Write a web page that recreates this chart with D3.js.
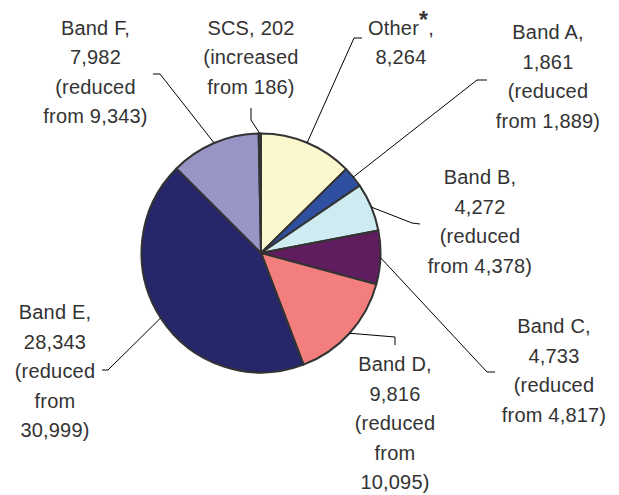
<!DOCTYPE html>
<html>
<head>
<meta charset="utf-8">
<script src="https://cdn.jsdelivr.net/npm/d3@7"></script>
<style>
  html, body { margin: 0; padding: 0; background: #fff; }
  svg { display: block; }
  text { font-family: "Liberation Sans", Arial, sans-serif; fill: #333; }
</style>
</head>
<body>
<svg id="chart" width="619" height="495"></svg>
<script>
// Slices, clockwise from 12 o'clock
const names = ["Other", "Band A", "Band B", "Band C", "Band D", "Band E", "Band F", "SCS"];
const values = [8264, 1861, 4272, 4733, 9816, 28343, 7982, 202];
const previous = [null, 1889, 4378, 4817, 10095, 30999, 9343, 186];
const colors = ["#FBF8CF", "#2F4FA1", "#CDEBF0", "#5F1C5E", "#F27E7E", "#26266B", "#9894C6", "#3a3a3a"];

// Label placement: centre x, first baseline, leader start and elbow
const labelLayout = [
  { cx: 401, y: 34.5, lead: [[362, 38], [354, 38]] },
  { cx: 548, y: 39,   lead: [[487, 80], [477, 80]] },
  { cx: 480, y: 184,  lead: [[420, 224], [412, 223]] },
  { cx: 554, y: 333,  lead: [[495, 372], [487, 372]] },
  { cx: 395, y: 371,  lead: [[395, 345], [395, 337]], splitFrom: true },
  { cx: 55,  y: 319,  lead: [[102, 370], [108, 370]], splitFrom: true },
  { cx: 95.5, y: 34.5, lead: [[153, 74], [160, 74]] },
  { cx: 251, y: 34.5, lead: [[251, 108], [251, 120]] }
];

const fmt = d3.format(",");
const data = names.map((n, i) => ({ name: n, value: values[i], prev: previous[i], color: colors[i], layout: labelLayout[i] }));

const svg = d3.select("#chart");
const cx = 261, cy = 253, r = 119.5;
const g = svg.append("g").attr("transform", `translate(${cx},${cy})`);

const pie = d3.pie().sort(null).value(d => d.value);
const arcs = pie(data);
const arc = d3.arc().innerRadius(0).outerRadius(r);

g.selectAll("path.slice")
  .data(arcs)
  .join("path")
  .attr("class", "slice")
  .attr("d", arc)
  .attr("fill", d => d.data.color)
  .attr("stroke", "#333")
  .attr("stroke-width", 2)
  .attr("stroke-linejoin", "round");

// Leader lines: label side -> elbow -> slice edge at mid-angle
const edgePoint = d => {
  const a = (d.startAngle + d.endAngle) / 2;
  return [cx + r * Math.sin(a), cy - r * Math.cos(a)];
};
svg.selectAll("path.leader")
  .data(arcs)
  .join("path")
  .attr("class", "leader")
  .attr("d", d => d3.line()([...d.data.layout.lead, edgePoint(d)]))
  .attr("fill", "none")
  .attr("stroke", "#000")
  .attr("stroke-width", 1);

// Label lines
function labelLines(d) {
  const v = fmt(d.value);
  if (d.name === "Other") return null;
  if (d.name === "SCS") return [`${d.name}, ${v}`, "(increased", `from ${fmt(d.prev)})`];
  const lines = [`${d.name},`, v, "(reduced"];
  if (d.layout.splitFrom) lines.push("from", `${fmt(d.prev)})`);
  else lines.push(`from ${fmt(d.prev)})`);
  return lines;
}

const lineH = 29.5;
const fontSize = 20;

data.forEach(d => {
  const L = d.layout;
  const t = svg.append("text")
    .attr("text-anchor", "middle")
    .attr("font-size", fontSize)
    .attr("letter-spacing", 0.2);
  if (d.name === "Other") {
    const first = t.append("tspan").attr("x", L.cx).attr("y", L.y);
    first.append("tspan").text("Other");
    first.append("tspan").attr("font-weight", "bold").attr("font-size", 23).attr("dy", -7).text("*");
    first.append("tspan").attr("dy", 7).text(",");
    t.append("tspan").attr("x", L.cx).attr("y", L.y + lineH).text(fmt(d.value));
  } else {
    labelLines(d).forEach((s, i) => {
      t.append("tspan").attr("x", L.cx).attr("y", L.y + i * lineH).text(s);
    });
  }
});
</script>
</body>
</html>
